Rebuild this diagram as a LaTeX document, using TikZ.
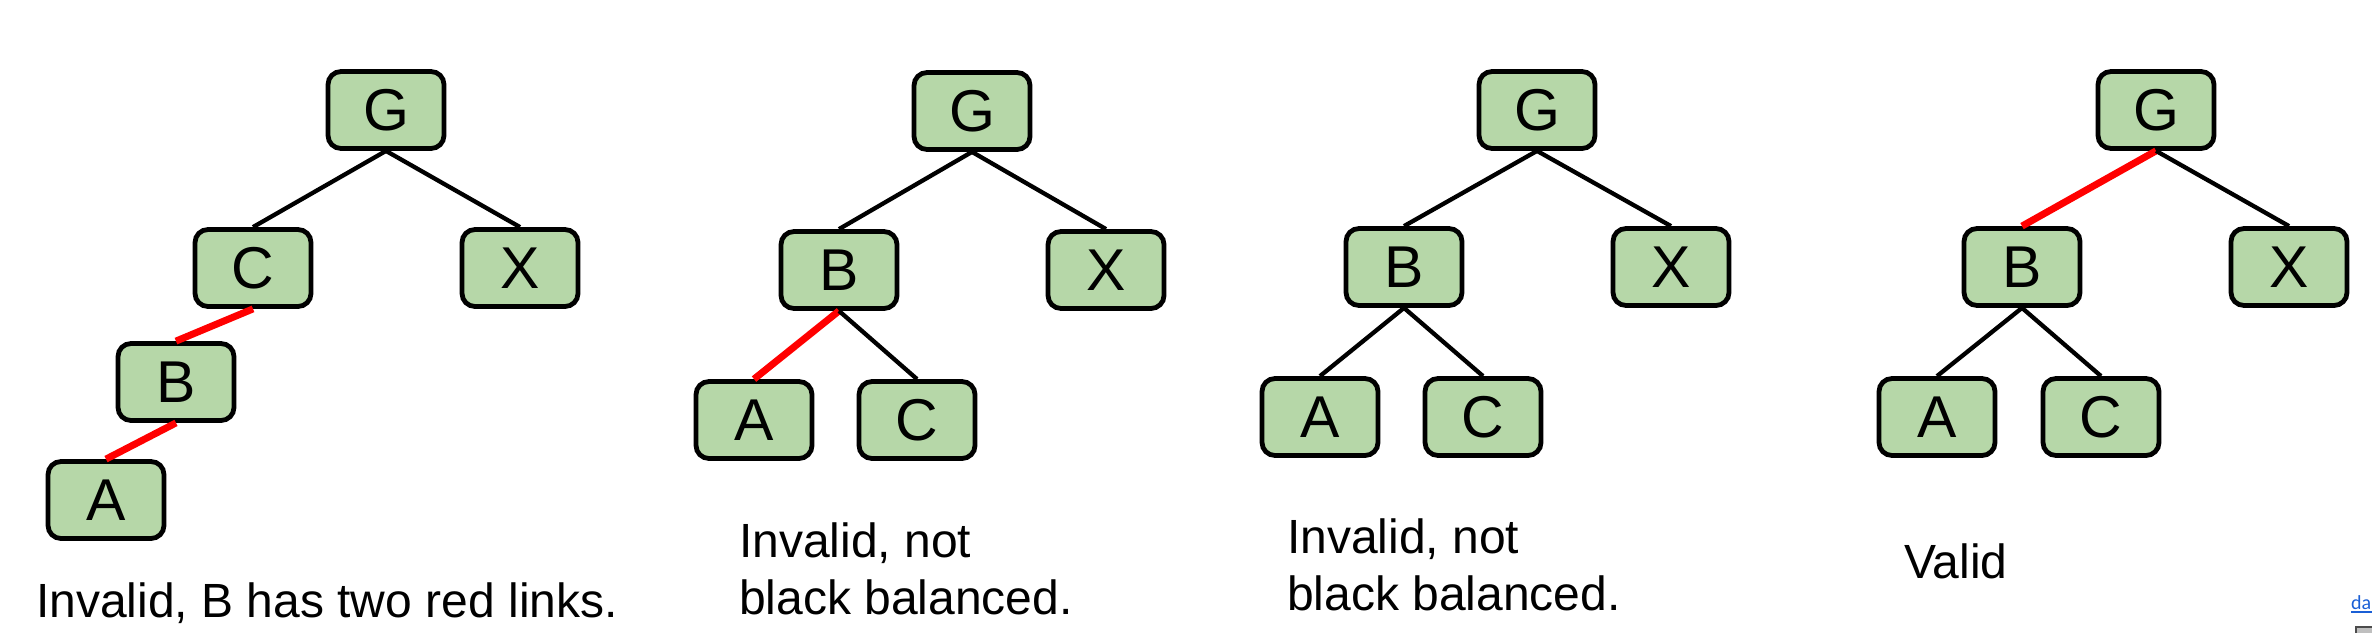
\documentclass[tikz,border=0pt]{standalone}
\usepackage{fontspec}
\setmainfont{Liberation Sans}
\newfontfamily\linkfont{Carlito}
\definecolor{boxgreen}{HTML}{B6D7A8}
\definecolor{linkblue}{HTML}{1A5FD6}
\definecolor{redlink}{HTML}{FF0000}
\begin{document}
\begin{tikzpicture}[x=1pt,y=-1pt,
  tn/.style={draw=black,line width=4.8pt,fill=boxgreen,rounded corners=13pt,
    minimum width=116pt,minimum height=77pt,inner sep=0pt,
    font=\fontsize{59}{60}\selectfont},
  blk/.style={draw=black,line width=4.3pt},
  rd/.style={draw=redlink,line width=7pt},
  captxt/.style={anchor=base west,inner sep=0pt,font=\fontsize{48}{57}\selectfont}]
\useasboundingbox (0,0) rectangle (2372,632);
\fill[white] (0,0) rectangle (2372,632);
% ---------- tree 1
\node[tn] (aG) at (386,110) {G};
\node[tn] (aC) at (253,268) {C};
\node[tn] (aX) at (520,268) {X};
\node[tn] (aB) at (176,382) {B};
\node[tn] (aA) at (106,500) {A};
\draw[blk] (aG.south) -- (aC.north);
\draw[blk] (aG.south) -- (aX.north);
\draw[rd] (aC.south) -- (aB.north);
\draw[rd] (aB.south) -- (aA.north);
\node[captxt] (acap) at (36,617) {Invalid, B has two red links.};
% ---------- tree 2
\node[tn] (bG) at (972,111) {G};
\node[tn] (bB) at (839,270) {B};
\node[tn] (bX) at (1106,270) {X};
\node[tn] (bA) at (754,420) {A};
\node[tn] (bC) at (917,420) {C};
\draw[blk] (bG.south) -- (bB.north);
\draw[blk] (bG.south) -- (bX.north);
\draw[rd] (bB.south) -- (bA.north);
\draw[blk] (bB.south) -- (bC.north);
\node[captxt] (bcap) at (739,557) {\begin{tabular}[t]{@{}l@{}}Invalid, not\\black balanced.\end{tabular}};
% ---------- tree 3
\node[tn] (cG) at (1537,110) {G};
\node[tn] (cB) at (1404,267) {B};
\node[tn] (cX) at (1671,267) {X};
\node[tn] (cA) at (1320,417) {A};
\node[tn] (cC) at (1483,417) {C};
\draw[blk] (cG.south) -- (cB.north);
\draw[blk] (cG.south) -- (cX.north);
\draw[blk] (cB.south) -- (cA.north);
\draw[blk] (cB.south) -- (cC.north);
\node[captxt] (ccap) at (1287,553) {\begin{tabular}[t]{@{}l@{}}Invalid, not\\black balanced.\end{tabular}};
% ---------- tree 4
\node[tn] (dG) at (2156,110) {G};
\node[tn] (dB) at (2022,267) {B};
\node[tn] (dX) at (2289,267) {X};
\node[tn] (dA) at (1937,417) {A};
\node[tn] (dC) at (2101,417) {C};
\draw[rd] (dG.south) -- (dB.north);
\draw[blk] (dG.south) -- (dX.north);
\draw[blk] (dB.south) -- (dA.north);
\draw[blk] (dB.south) -- (dC.north);
\node[captxt] (dcap) at (1904,578) {Valid};
% ---------- corner artifact
\node[anchor=base west,inner sep=0pt,text=linkblue,font=\linkfont\fontsize{20}{22}\selectfont] (link) at (2351,609) {da};
\draw[linkblue,line width=1.2pt] (link.base west) ++(0,3) -- ++(22,0);
\filldraw[fill=gray!50,draw=black!70,line width=1.2pt] (2356,627) rectangle (2374,636);
\end{tikzpicture}
\end{document}
